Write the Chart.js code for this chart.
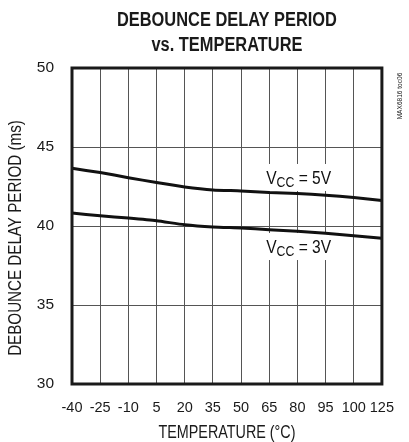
<!DOCTYPE html>
<html>
<head>
<meta charset="utf-8">
<script src="https://cdn.jsdelivr.net/npm/chart.js@4/dist/chart.umd.min.js"></script>
<style>
  html, body { margin: 0; padding: 0; background: #fff; }
  #wrap { width: 409px; height: 442px; }
</style>
</head>
<body>
<div id="wrap"><canvas id="delayChart" width="409" height="442"></canvas></div>
<script>
// ==================== DATA ====================
const tempLabels = ['-40', '-25', '-10', '5', '20', '35', '50', '65', '80', '95', '100', '125'];
const delay5V = [43.65, 43.38, 43.06, 42.75, 42.47, 42.28, 42.22, 42.12, 42.06, 41.95, 41.80, 41.62];
const delay3V = [40.82, 40.65, 40.50, 40.33, 40.08, 39.94, 39.87, 39.77, 39.67, 39.54, 39.39, 39.23];
const yTicks = [30, 35, 40, 45, 50];

const SANS = "'Liberation Sans', Arial, sans-serif";
const SQUEEZE = 0.82;   // fake a narrow face by squashing Liberation Sans

// draw text squeezed horizontally, x is the anchor for the given align
function narrowText(ctx, text, x, y, align){
    ctx.save();
    ctx.translate(x, y);
    ctx.scale(SQUEEZE, 1);
    ctx.textAlign = align;
    ctx.fillText(text, 0, 0);
    ctx.restore();
}

// ==================== EXTRA DRAWING (frame, titles, labels) ====================
const decorPlugin = {
    id: 'decor',
    beforeDatasetsDraw(chart){
        let ctx = chart.ctx;
        let xs = chart.scales.x;
        let ys = chart.scales.y;

        // curve labels: white box knocks out grid lines, then text
        function vccLabel(volts, yVal){
            let left = xs.getPixelForValue(7) - 3;
            let base = ys.getPixelForValue(yVal);
            ctx.save();
            ctx.fillStyle = '#fff';
            ctx.fillRect(left - 4, base - 20, 68, 27);
            ctx.fillStyle = '#111';
            ctx.textBaseline = 'alphabetic';
            ctx.font = '19px ' + SANS;
            narrowText(ctx, 'V', left, base, 'left');
            let w = ctx.measureText('V').width * SQUEEZE;
            ctx.font = '15px ' + SANS;
            narrowText(ctx, 'CC', left + w, base + 3, 'left');
            let w2 = ctx.measureText('CC').width * SQUEEZE;
            ctx.font = '19px ' + SANS;
            narrowText(ctx, ' = ' + volts, left + w + w2, base, 'left');
            ctx.restore();
        }
        vccLabel('5V', 42.66);
        vccLabel('3V', 38.29);
    },
    afterDatasetsDraw(chart){
        let ctx = chart.ctx;
        let a = chart.chartArea;
        ctx.save();
        // plot frame
        ctx.strokeStyle = '#1a1a1a';
        ctx.lineWidth = 3;
        ctx.strokeRect(a.left, a.top, a.right - a.left, a.bottom - a.top);

        // chart title
        ctx.fillStyle = '#1a1a1a';
        ctx.textBaseline = 'middle';
        ctx.font = 'bold 20px ' + SANS;
        let cx = (a.left + a.right) / 2;
        narrowText(ctx, 'DEBOUNCE DELAY PERIOD', cx, 20, 'center');
        narrowText(ctx, 'vs. TEMPERATURE', cx, 45, 'center');

        // x axis title
        ctx.font = '17.5px ' + SANS;
        narrowText(ctx, 'TEMPERATURE (°C)', cx, 433, 'center');

        // y axis title
        ctx.save();
        ctx.font = '18.5px ' + SANS;
        ctx.translate(16, 238);
        ctx.rotate(-Math.PI / 2);
        narrowText(ctx, 'DEBOUNCE DELAY PERIOD (ms)', 0, 0, 'center');
        ctx.restore();

        // figure id on the right
        ctx.fillStyle = '#222';
        ctx.font = '8px ' + SANS;
        ctx.translate(400, 96);
        ctx.rotate(-Math.PI / 2);
        narrowText(ctx, 'MAX6816 toc06', 0, 0, 'center');
        ctx.restore();
    }
};

// ==================== CHART ====================
let delayChart = new Chart(document.getElementById('delayChart'), {
    type: 'line',
    data: {
        labels: tempLabels,
        datasets: [
            {
                label: 'VCC = 5V',
                data: delay5V,
                borderColor: '#111',
                borderWidth: 3,
                pointRadius: 0,
                tension: 0.2,
                fill: false
            },
            {
                label: 'VCC = 3V',
                data: delay3V,
                borderColor: '#111',
                borderWidth: 3,
                pointRadius: 0,
                tension: 0.2,
                fill: false
            }
        ]
    },
    options: {
        responsive: false,
        animation: false,
        devicePixelRatio: 1,
        layout: {
            padding: { top: 68, right: 19, left: 0, bottom: 0 }
        },
        plugins: {
            legend: { display: false },
            tooltip: { enabled: false },
            title: { display: false }
        },
        scales: {
            x: {
                type: 'category',
                offset: false,
                border: { display: false },
                grid: { color: '#555', lineWidth: 1, drawTicks: false },
                ticks: {
                    color: '#1a1a1a',
                    font: { size: 14.5, family: SANS },
                    padding: 15,
                    maxRotation: 0,
                    autoSkip: false
                },
                afterFit: function(scale){
                    scale.height = 58;
                }
            },
            y: {
                min: 30,
                max: 50,
                border: { display: false },
                grid: { color: '#555', lineWidth: 1, drawTicks: false },
                ticks: {
                    color: '#1a1a1a',
                    font: { size: 15.5, family: SANS },
                    padding: 18
                },
                afterBuildTicks: function(scale){
                    scale.ticks = yTicks.map(function(v){ return { value: v }; });
                },
                afterFit: function(scale){
                    scale.width = 72;
                }
            }
        }
    },
    plugins: [decorPlugin]
});
</script>
</body>
</html>
